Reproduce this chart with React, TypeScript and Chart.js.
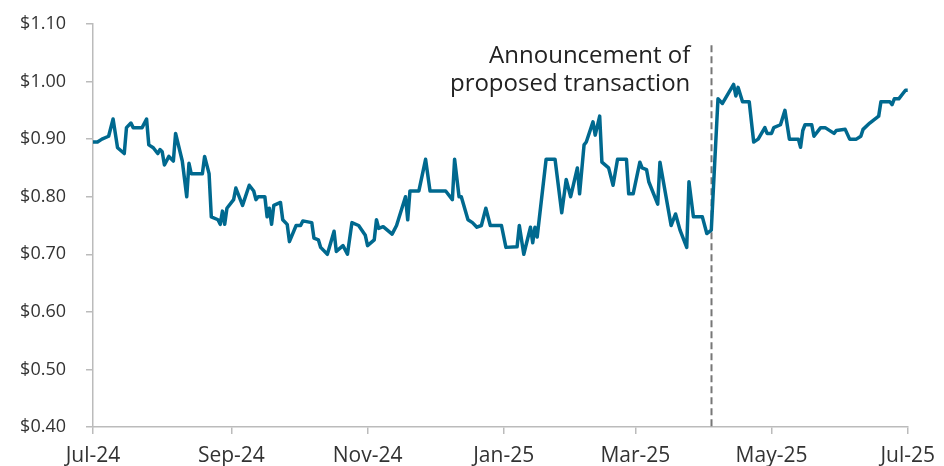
import React, { useEffect, useRef } from "react";
import { Chart, registerables } from "chart.js";

Chart.register(...registerables);

// Day offsets from 1 Jul 2024
const tickDays = [0, 62, 123, 184, 243, 304, 365];
const tickLabels = ["Jul-24", "Sep-24", "Nov-24", "Jan-25", "Mar-25", "May-25", "Jul-25"];

const days = [
  0, 2, 4, 7, 9, 11, 14, 15, 17, 18, 22, 24, 25, 27, 29, 30, 31, 32, 34, 36,
  37, 40, 42, 43, 44, 49, 50, 52, 53, 56, 57, 58, 59, 60, 63, 64, 67, 70, 72, 73,
  74, 77, 78, 79, 80, 81, 84, 85, 87, 88, 91, 93, 94, 98, 99, 101, 102, 105, 108, 109,
  112, 114, 116, 119, 122, 123, 126, 127, 128, 130, 134, 136, 140, 141, 142, 146, 149, 151, 158, 161,
  162, 164, 165, 168, 170, 172, 174, 176, 178, 183, 185, 190, 191, 193, 196, 197, 198, 199, 203, 207,
  210, 212, 214, 217, 218, 220, 221, 224, 225, 227, 228, 231, 233, 235, 239, 240, 242, 245, 246, 248,
  249, 253, 254, 259, 261, 263, 266, 267, 269, 273, 275, 277, 280, 282, 287, 288, 289, 291, 294, 296,
  298, 301, 302, 304, 305, 308, 310, 312, 316, 317, 318, 319, 322, 323, 326, 328, 332, 333, 337, 339,
  342, 344, 345, 348, 352, 353, 357, 358, 359, 361, 364, 365,
];

const prices = [
  0.895, 0.895, 0.9, 0.905, 0.935, 0.885, 0.875, 0.92, 0.928, 0.92, 0.92, 0.935, 0.89, 0.885, 0.875, 0.882, 0.878, 0.855, 0.87, 0.862,
  0.91, 0.862, 0.8, 0.858, 0.84, 0.84, 0.87, 0.84, 0.765, 0.76, 0.752, 0.775, 0.752, 0.78, 0.795, 0.815, 0.785, 0.82, 0.81, 0.795,
  0.8, 0.8, 0.765, 0.78, 0.752, 0.785, 0.79, 0.76, 0.752, 0.722, 0.75, 0.75, 0.758, 0.755, 0.728, 0.725, 0.712, 0.7, 0.74, 0.705,
  0.715, 0.7, 0.755, 0.75, 0.733, 0.715, 0.725, 0.76, 0.745, 0.748, 0.735, 0.75, 0.8, 0.76, 0.81, 0.81, 0.865, 0.81, 0.81, 0.795,
  0.865, 0.8, 0.8, 0.76, 0.755, 0.747, 0.75, 0.78, 0.75, 0.75, 0.712, 0.713, 0.75, 0.7, 0.747, 0.72, 0.747, 0.73, 0.865, 0.865,
  0.772, 0.83, 0.8, 0.85, 0.805, 0.89, 0.895, 0.93, 0.907, 0.94, 0.86, 0.85, 0.82, 0.865, 0.865, 0.805, 0.805, 0.86, 0.85, 0.847,
  0.826, 0.787, 0.86, 0.75, 0.77, 0.742, 0.712, 0.826, 0.765, 0.765, 0.736, 0.742, 0.97, 0.962, 0.995, 0.975, 0.99, 0.965, 0.965, 0.895,
  0.9, 0.92, 0.91, 0.91, 0.92, 0.925, 0.95, 0.9, 0.9, 0.886, 0.915, 0.925, 0.925, 0.905, 0.92, 0.92, 0.91, 0.915, 0.917, 0.9,
  0.9, 0.905, 0.917, 0.928, 0.94, 0.965, 0.965, 0.96, 0.97, 0.97, 0.985, 0.985,
];

const announcementDay = 277;
const announcementLines = ["Announcement of", "proposed transaction"];
const dashTopValue = 1.063;

const FONT = '"Open Sans", sans-serif';

const annotationPlugin = {
  id: "announcement",
  beforeDatasetsDraw(chart: any) {
    const { ctx, scales } = chart;
    const x = scales.x;
    const y = scales.y;
    const px = Math.round(x.getPixelForValue(announcementDay)) + 0.5;
    ctx.save();
    ctx.strokeStyle = "#777777";
    ctx.lineWidth = 2;
    ctx.setLineDash([7, 4]);
    ctx.beginPath();
    ctx.moveTo(px, y.getPixelForValue(dashTopValue));
    ctx.lineTo(px, y.bottom);
    ctx.stroke();
    ctx.restore();
  },
  afterDatasetsDraw(chart: any) {
    const { ctx, scales, chartArea } = chart;
    const px = scales.x.getPixelForValue(announcementDay);
    ctx.save();
    ctx.fillStyle = "#222222";
    ctx.font = `24px ${FONT}`;
    ctx.textAlign = "right";
    ctx.textBaseline = "middle";
    ctx.fillText(announcementLines[0], px - 21, chartArea.top + 32);
    ctx.fillText(announcementLines[1], px - 21, chartArea.top + 60);
    ctx.restore();
  },
};

export default function App() {
  const ref = useRef<HTMLCanvasElement | null>(null);
  useEffect(() => {
    if (!ref.current) return;
    const chart = new Chart(ref.current, {
      type: "line",
      data: {
        datasets: [
          {
            data: days.map((d, i) => ({ x: d, y: prices[i] })),
            borderColor: "#00698f",
            borderWidth: 3.5,
            pointRadius: 0,
            tension: 0,
            borderJoinStyle: "round",
            borderCapStyle: "round",
          },
        ],
      },
      options: {
        responsive: false,
        animation: false,
        devicePixelRatio: 1,
        layout: { padding: { top: 24, right: 35, bottom: 0, left: 0 } },
        plugins: { legend: { display: false }, tooltip: { enabled: false } },
        scales: {
          x: {
            type: "linear",
            min: 0,
            max: 365,
            afterBuildTicks: (scale: any) => {
              scale.ticks = tickDays.map((v) => ({ value: v }));
            },
            afterFit: (scale: any) => {
              scale.height = 39;
            },
            grid: { drawOnChartArea: false, drawTicks: true, tickLength: 7, color: "#bbbbbb", lineWidth: 1.5 },
            border: { color: "#bbbbbb", width: 1.5 },
            ticks: {
              autoSkip: false,
              maxRotation: 0,
              padding: 9,
              color: "#333333",
              font: { family: FONT, size: 21 },
              callback: (v: any) => tickLabels[tickDays.indexOf(Number(v))] ?? "",
            },
          },
          y: {
            min: 0.4,
            max: 1.1,
            afterFit: (scale: any) => {
              scale.width = 93;
              scale.paddingTop = 0;
              scale.paddingBottom = 0;
            },
            grid: { drawOnChartArea: false, drawTicks: true, tickLength: 7, color: "#bbbbbb", lineWidth: 1.5 },
            border: { color: "#bbbbbb", width: 1.5 },
            ticks: {
              stepSize: 0.1,
              padding: 20,
              color: "#333333",
              font: { family: FONT, size: 18 },
              callback: (v: any) => "$" + Number(v).toFixed(2),
            },
          },
        },
      },
      plugins: [annotationPlugin],
    } as any);
    return () => chart.destroy();
  }, []);
  return (
    <div style={{ position: "absolute", left: 0, top: 0, width: 944, height: 466, background: "#fff" }}>
      <canvas ref={ref} width={944} height={466} />
    </div>
  );
}
